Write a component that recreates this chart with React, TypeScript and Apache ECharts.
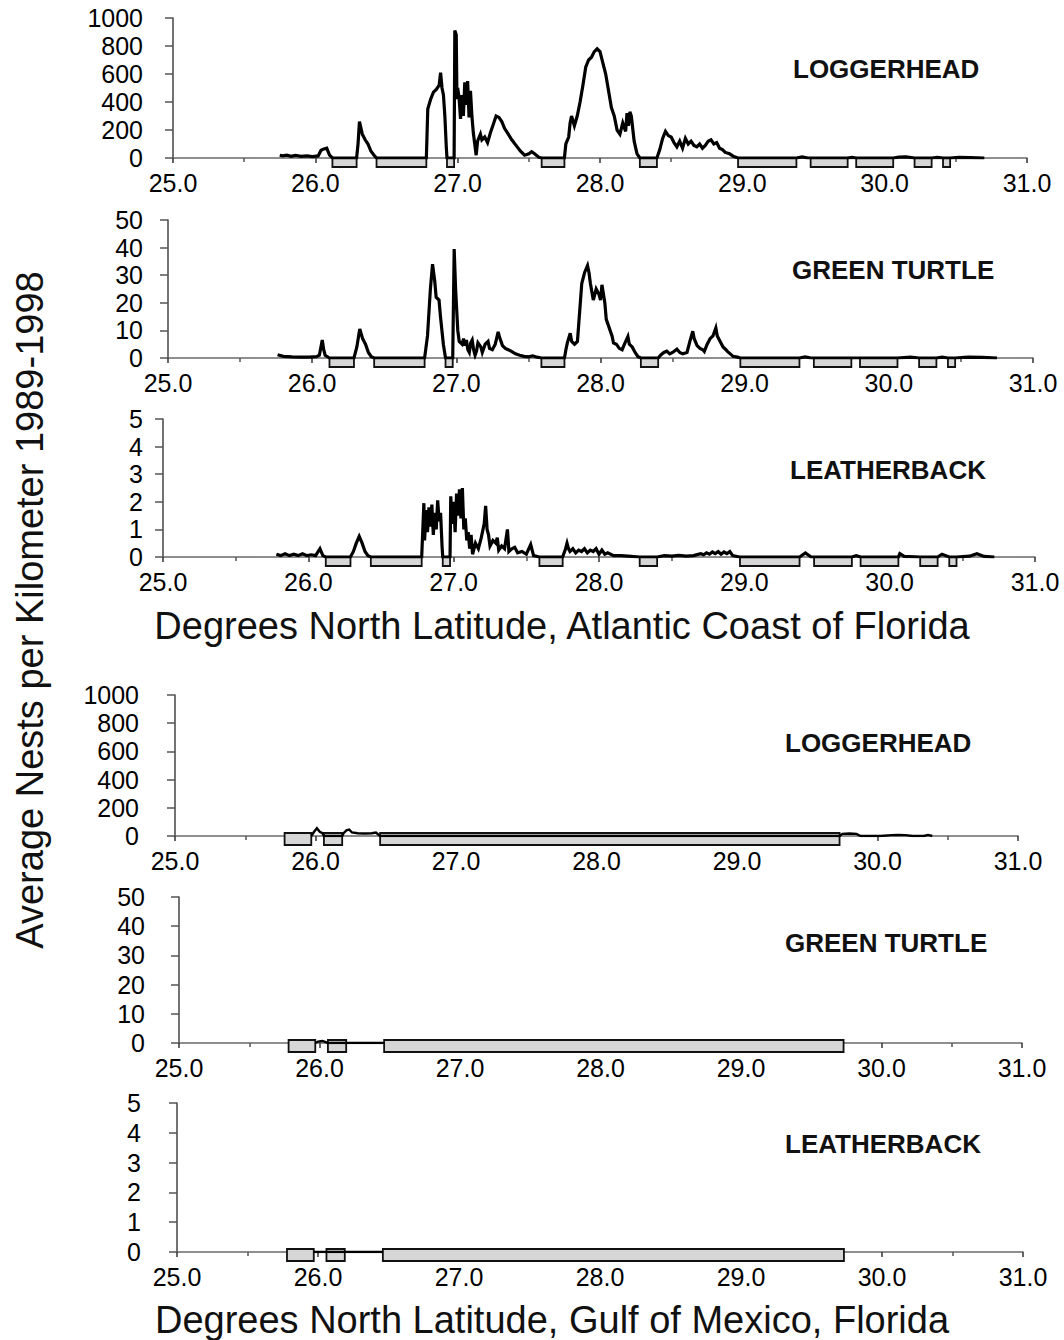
import React, { useEffect, useRef } from "react";
import * as echarts from "echarts";

// ---------- tick labels ----------
const X_TICKS = [25, 26, 27, 28, 29, 30, 31];
const LOGGER_TICKS = [0, 200, 400, 600, 800, 1000];
const GREEN_TICKS = [0, 10, 20, 30, 40, 50];
const LEATHER_TICKS = [0, 1, 2, 3, 4, 5];

// ---------- unsurveyed stretches (gray boxes) ----------
const ATL_GAPS = [
  [26.12, 26.29], [26.43, 26.78], [26.925, 26.975], [27.59, 27.75], [28.28, 28.4],
  [28.97, 29.38], [29.48, 29.74], [29.8, 30.06], [30.21, 30.33], [30.41, 30.46],
];
const GULF_GAPS = [[25.78, 25.97], [26.06, 26.19], [26.46, 29.73]];

// ---------- Atlantic coast ----------
const atlLoggerhead = [
  [25.75, 20], [25.77, 15], [25.8, 20], [25.83, 12], [25.86, 18], [25.9, 12], [25.94, 15], [25.98, 10],
  [26.02, 15], [26.04, 55], [26.06, 65], [26.08, 70], [26.1, 20], [26.12, 0],
  [26.29, 0], [26.3, 100], [26.31, 260], [26.33, 170], [26.35, 130], [26.37, 100], [26.39, 50], [26.42, 10], [26.43, 0],
  [26.78, 0], [26.79, 350], [26.81, 420], [26.83, 470], [26.85, 490], [26.87, 520], [26.88, 610], [26.89, 500],
  [26.9, 450], [26.91, 300], [26.92, 80], [26.925, 0],
  [26.975, 0], [26.98, 910], [26.99, 880], [26.995, 420], [27.0, 500], [27.01, 430], [27.02, 280], [27.03, 450],
  [27.04, 300], [27.05, 540], [27.06, 380], [27.07, 550], [27.08, 290], [27.09, 480], [27.1, 300], [27.11, 180],
  [27.12, 100], [27.13, 20], [27.14, 120], [27.16, 170], [27.17, 130], [27.19, 150], [27.21, 110], [27.23, 180],
  [27.25, 240], [27.27, 300], [27.29, 290], [27.31, 260], [27.33, 210], [27.35, 180], [27.38, 130], [27.41, 90],
  [27.44, 50], [27.47, 20], [27.5, 30], [27.52, 45], [27.54, 30], [27.57, 5], [27.59, 0],
  [27.75, 0], [27.76, 100], [27.78, 150], [27.79, 250], [27.8, 300], [27.82, 230], [27.84, 300], [27.86, 400],
  [27.88, 520], [27.9, 650], [27.92, 700], [27.94, 720], [27.96, 760], [27.98, 780], [28.0, 760], [28.02, 680],
  [28.04, 600], [28.06, 480], [28.08, 360], [28.1, 300], [28.12, 200], [28.14, 170], [28.16, 250], [28.18, 190],
  [28.19, 320], [28.2, 230], [28.21, 330], [28.22, 300], [28.24, 120], [28.26, 30], [28.28, 0],
  [28.4, 0], [28.42, 60], [28.44, 140], [28.46, 190], [28.48, 160], [28.5, 150], [28.52, 110], [28.54, 80],
  [28.56, 120], [28.58, 70], [28.6, 140], [28.62, 100], [28.64, 120], [28.66, 90], [28.68, 80], [28.7, 100],
  [28.72, 70], [28.74, 90], [28.76, 120], [28.78, 130], [28.8, 100], [28.82, 110], [28.84, 70], [28.86, 60],
  [28.88, 40], [28.91, 30], [28.94, 10], [28.97, 0],
  [29.38, 0], [29.42, 8], [29.46, 0], [29.74, 0], [29.77, 5], [29.8, 0], [30.06, 0], [30.1, 6], [30.15, 8],
  [30.21, 0], [30.33, 0], [30.37, 5], [30.41, 0], [30.46, 0], [30.52, 5], [30.6, 3], [30.7, 0],
];

const atlGreen = [
  [25.76, 1.2], [25.8, 0.6], [25.86, 0.4], [25.92, 0.3], [25.98, 0.3], [26.03, 0.5], [26.05, 1], [26.07, 6.5],
  [26.08, 3], [26.09, 1], [26.12, 0],
  [26.29, 0], [26.31, 4], [26.33, 10.5], [26.35, 7], [26.37, 5], [26.39, 2], [26.41, 0.5], [26.43, 0],
  [26.78, 0], [26.8, 8], [26.82, 25], [26.835, 34], [26.85, 28], [26.86, 22], [26.88, 21], [26.89, 15],
  [26.9, 10], [26.91, 5], [26.925, 0],
  [26.975, 0], [26.985, 39.5], [26.995, 25], [27.01, 10], [27.02, 6], [27.04, 5], [27.05, 7], [27.06, 4.5],
  [27.07, 6.5], [27.08, 3], [27.09, 2], [27.1, 5.5], [27.11, 6.5], [27.12, 3], [27.13, 1], [27.14, 2.5],
  [27.15, 5.5], [27.17, 4], [27.18, 2], [27.2, 5], [27.22, 6], [27.23, 3.5], [27.25, 3], [27.27, 5],
  [27.29, 9.5], [27.3, 7.5], [27.32, 4.5], [27.34, 3.5], [27.36, 3], [27.38, 2.5], [27.41, 1.5], [27.44, 1],
  [27.47, 0.6], [27.5, 0.4], [27.53, 0.8], [27.56, 0.3], [27.59, 0],
  [27.75, 0], [27.76, 3], [27.77, 5.5], [27.79, 9], [27.8, 6], [27.82, 5], [27.84, 6], [27.86, 20], [27.87, 27],
  [27.89, 31], [27.91, 33.5], [27.92, 31], [27.93, 27], [27.94, 24], [27.95, 21], [27.97, 25], [27.99, 23],
  [28.0, 21], [28.01, 26.5], [28.03, 20], [28.04, 14], [28.06, 11], [28.08, 8], [28.09, 5.5], [28.11, 5],
  [28.13, 3.5], [28.15, 3], [28.17, 5.5], [28.19, 7.8], [28.2, 5], [28.22, 4], [28.24, 2], [28.26, 0.5], [28.28, 0],
  [28.4, 0], [28.42, 1.2], [28.44, 2], [28.46, 2.5], [28.48, 1.5], [28.5, 2], [28.53, 3.2], [28.55, 2],
  [28.57, 1.5], [28.6, 2], [28.62, 6], [28.64, 9.7], [28.65, 7], [28.67, 4.5], [28.69, 3.5], [28.71, 3],
  [28.72, 2.4], [28.74, 5], [28.76, 7], [28.78, 8], [28.8, 10.9], [28.81, 8], [28.83, 6], [28.85, 4],
  [28.87, 3], [28.88, 2.4], [28.9, 1.5], [28.92, 0.6], [28.95, 0.3], [28.97, 0],
  [29.38, 0], [29.42, 0.4], [29.46, 0], [30.06, 0], [30.15, 0.3], [30.21, 0], [30.33, 0], [30.37, 0.3],
  [30.41, 0], [30.46, 0], [30.55, 0.3], [30.65, 0.2], [30.75, 0],
];

const atlLeatherback = [
  [25.78, 0.1], [25.81, 0.05], [25.84, 0.12], [25.87, 0.05], [25.9, 0.1], [25.93, 0.05], [25.96, 0.12],
  [25.99, 0.05], [26.02, 0.08], [26.05, 0.05], [26.08, 0.3], [26.1, 0.05], [26.12, 0],
  [26.29, 0], [26.31, 0.2], [26.33, 0.5], [26.35, 0.75], [26.37, 0.5], [26.39, 0.2], [26.41, 0.05], [26.43, 0],
  [26.78, 0], [26.795, 1.95], [26.8, 0.6], [26.81, 1.7], [26.82, 0.9], [26.83, 1.8], [26.84, 1.1], [26.85, 1.9],
  [26.86, 0.8], [26.87, 1.6], [26.88, 1.0], [26.89, 2.05], [26.9, 1.3], [26.91, 1.6], [26.92, 0.4], [26.925, 0],
  [26.975, 0], [26.98, 2.2], [26.99, 1.2], [27.0, 2.0], [27.01, 0.9], [27.02, 2.3], [27.03, 1.5], [27.04, 2.45],
  [27.05, 1.4], [27.06, 2.5], [27.07, 1.0], [27.08, 1.4], [27.09, 0.6], [27.1, 0.9], [27.11, 0.3], [27.12, 0.8],
  [27.13, 0.1], [27.15, 0.5], [27.17, 0.3], [27.19, 0.7], [27.21, 1.2], [27.22, 1.85], [27.23, 1.0], [27.24, 0.8],
  [27.25, 0.4], [27.27, 0.6], [27.29, 0.5], [27.3, 0.7], [27.31, 0.25], [27.33, 0.4], [27.35, 0.3], [27.37, 1.0],
  [27.38, 0.2], [27.4, 0.3], [27.42, 0.35], [27.44, 0.15], [27.47, 0.2], [27.5, 0.1], [27.53, 0.45], [27.55, 0.05],
  [27.59, 0],
  [27.75, 0], [27.77, 0.3], [27.78, 0.5], [27.79, 0.3], [27.8, 0.2], [27.82, 0.3], [27.84, 0.15], [27.86, 0.25],
  [27.88, 0.2], [27.9, 0.3], [27.92, 0.15], [27.94, 0.25], [27.96, 0.2], [27.98, 0.3], [28.0, 0.1], [28.02, 0.25],
  [28.04, 0.1], [28.06, 0.15], [28.1, 0.05], [28.15, 0.05], [28.2, 0.03], [28.28, 0],
  [28.4, 0], [28.45, 0.05], [28.5, 0.03], [28.55, 0.06], [28.6, 0.03], [28.65, 0.05], [28.7, 0.12], [28.72, 0.08],
  [28.74, 0.15], [28.76, 0.1], [28.78, 0.18], [28.8, 0.12], [28.82, 0.2], [28.84, 0.1], [28.86, 0.18],
  [28.88, 0.12], [28.9, 0.2], [28.92, 0.05], [28.95, 0.02], [28.97, 0],
  [29.38, 0], [29.42, 0.15], [29.46, 0], [29.74, 0], [29.77, 0.05], [29.8, 0], [30.06, 0], [30.07, 0.12],
  [30.1, 0.02], [30.21, 0], [30.33, 0], [30.36, 0.1], [30.41, 0], [30.46, 0], [30.55, 0.03], [30.6, 0.12],
  [30.65, 0.02], [30.72, 0],
];

// ---------- Gulf of Mexico ----------
const gulfLoggerhead = [
  [25.97, 0], [25.99, 30], [26.01, 55], [26.03, 30], [26.05, 20], [26.06, 0],
  [26.19, 0], [26.2, 20], [26.22, 40], [26.24, 45], [26.26, 25], [26.3, 20], [26.35, 18], [26.4, 20],
  [26.43, 25], [26.46, 0],
  [29.73, 0], [29.75, 15], [29.8, 18], [29.85, 15], [29.88, 0], [30.02, 0], [30.1, 6], [30.15, 8], [30.2, 6],
  [30.25, 0], [30.33, 0], [30.36, 8], [30.39, 0],
];
const gulfGreen = [
  [25.97, 0], [25.99, 0.5], [26.02, 0.7], [26.04, 0.4], [26.06, 0], [26.19, 0], [26.46, 0],
];
const gulfLeatherback = [
  [25.97, 0], [26.06, 0], [26.19, 0], [26.46, 0],
];

const FONT = "Liberation Sans, Arial, sans-serif";

const PANELS = [
  { data: atlLoggerhead, gaps: ATL_GAPS, ticks: LOGGER_TICKS, title: "LOGGERHEAD", left: 173, top: 18, width: 854, height: 140, margin: 30, tx: 793, ty: 70, gulf: false },
  { data: atlGreen, gaps: ATL_GAPS, ticks: GREEN_TICKS, title: "GREEN TURTLE", left: 168, top: 220, width: 865, height: 138, margin: 25, tx: 792, ty: 271, gulf: false },
  { data: atlLeatherback, gaps: ATL_GAPS, ticks: LEATHER_TICKS, title: "LEATHERBACK", left: 163, top: 419, width: 872, height: 138, margin: 20, tx: 790, ty: 471, gulf: false },
  { data: gulfLoggerhead, gaps: GULF_GAPS, ticks: LOGGER_TICKS, title: "LOGGERHEAD", left: 175, top: 695, width: 843, height: 141, margin: 36, tx: 785, ty: 744, gulf: true },
  { data: gulfGreen, gaps: GULF_GAPS, ticks: GREEN_TICKS, title: "GREEN TURTLE", left: 179, top: 897, width: 843, height: 146, margin: 34, tx: 785, ty: 944, gulf: true },
  { data: gulfLeatherback, gaps: GULF_GAPS, ticks: LEATHER_TICKS, title: "LEATHERBACK", left: 177, top: 1103, width: 846, height: 149, margin: 36, tx: 785, ty: 1145, gulf: true },
];

function buildOption() {
  const grid: any[] = [];
  const xAxis: any[] = [];
  const yAxis: any[] = [];
  const series: any[] = [];
  const graphic: any[] = [];

  PANELS.forEach((p, i) => {
    grid.push({ left: p.left, top: p.top, width: p.width, height: p.height, containLabel: false });
    xAxis.push({
      type: "value",
      gridIndex: i,
      min: X_TICKS[0],
      max: X_TICKS[X_TICKS.length - 1],
      interval: X_TICKS[1] - X_TICKS[0],
      axisLine: { show: true, onZero: false, lineStyle: { color: "#6a6a6a", width: 1.5 } },
      axisTick: { show: true, length: 5, lineStyle: { color: "#333", width: 1.5 } },
      minorTick: { show: true, splitNumber: 2, length: 4, lineStyle: { color: "#555", width: 1.5 } },
      splitLine: { show: false },
      axisLabel: {
        formatter: (v: number) => v.toFixed(1),
        fontSize: 25,
        fontFamily: FONT,
        color: "#000",
        margin: 12,
      },
    });
    yAxis.push({
      type: "value",
      gridIndex: i,
      min: p.ticks[0],
      max: p.ticks[p.ticks.length - 1],
      interval: p.ticks[1] - p.ticks[0],
      axisLine: { show: true, lineStyle: { color: "#444", width: 1.5 } },
      axisTick: { show: true, length: 8, lineStyle: { color: "#555", width: 1.5 } },
      splitLine: { show: false },
      axisLabel: {
        formatter: (v: number) => String(v),
        fontSize: 25,
        fontFamily: FONT,
        color: "#000",
        margin: p.margin,
      },
    });
    const boxOffset = p.gulf ? -3 : 0;
    const boxHeight = p.gulf ? 12 : 9;
    series.push({
      type: "custom",
      xAxisIndex: i,
      yAxisIndex: i,
      clip: false,
      z: 2,
      silent: true,
      data: p.gaps.map((g) => [g[0], g[1], 0]),
      encode: { x: [0, 1], y: 2 },
      renderItem: (params: any, api: any) => {
        const a = api.coord([api.value(0), 0]);
        const b = api.coord([api.value(1), 0]);
        return {
          type: "rect",
          shape: { x: a[0], y: a[1] + boxOffset, width: b[0] - a[0], height: boxHeight },
          style: { fill: "#d6d6d6", stroke: "#111", lineWidth: 1.8 },
        };
      },
    });
    series.push({
      type: "line",
      xAxisIndex: i,
      yAxisIndex: i,
      data: p.data,
      symbol: "none",
      showSymbol: false,
      z: 3,
      silent: true,
      lineStyle: { color: "#000", width: p.gulf ? 2.4 : 3.2, join: "miter" },
    });
    graphic.push({
      type: "text",
      left: p.tx,
      top: p.ty - 14,
      style: { text: p.title, font: `bold 26px ${FONT}`, fill: "#111" },
    });
  });

  graphic.push({
    type: "text",
    x: 562,
    y: 626,
    style: {
      text: "Degrees North Latitude, Atlantic Coast of Florida",
      font: `38px ${FONT}`,
      fill: "#111",
      align: "center",
      verticalAlign: "middle",
    },
  });
  graphic.push({
    type: "text",
    x: 552,
    y: 1320,
    style: {
      text: "Degrees North Latitude, Gulf of Mexico, Florida",
      font: `38px ${FONT}`,
      fill: "#111",
      align: "center",
      verticalAlign: "middle",
    },
  });
  graphic.push({
    type: "text",
    x: 30,
    y: 610,
    rotation: Math.PI / 2,
    style: {
      text: "Average Nests per Kilometer 1989-1998",
      font: `38px ${FONT}`,
      fill: "#111",
      align: "center",
      verticalAlign: "middle",
    },
  });

  return {
    animation: false,
    backgroundColor: "#fff",
    grid,
    xAxis,
    yAxis,
    series,
    graphic,
  };
}

export default function App() {
  const ref = useRef<HTMLDivElement>(null);
  useEffect(() => {
    const chart = echarts.init(ref.current as HTMLDivElement, null, { renderer: "svg" });
    chart.setOption(buildOption() as any);
    return () => chart.dispose();
  }, []);
  return (
    <div
      ref={ref}
      style={{ position: "absolute", left: 0, top: 0, width: 1064, height: 1340, background: "#fff" }}
    />
  );
}
